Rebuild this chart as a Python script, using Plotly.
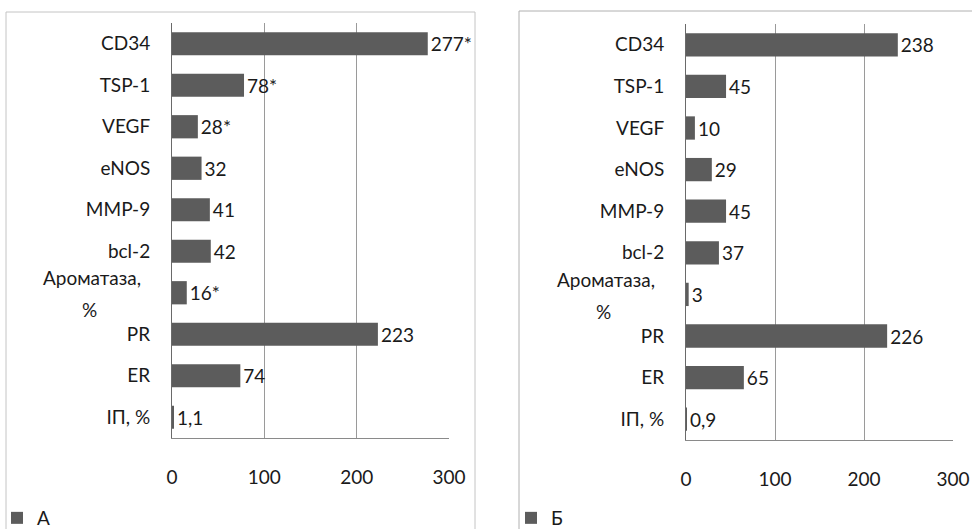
import plotly.graph_objects as go

categories = ["CD34", "TSP-1", "VEGF", "eNOS", "MMP-9", "bcl-2",
              "Ароматаза, %", "PR", "ER", "IП, %"]
tick_text = ["CD34", "TSP-1", "VEGF", "eNOS", "MMP-9", "bcl-2",
             "", "PR", "ER", "IП, %"]
aromatase_lines = ["Ароматаза,", "%"]
values_a = [277, 78, 28, 32, 41, 42, 16, 223, 74, 1.1]
labels_a = ["277*", "78*", "28*", "32", "41", "42", "16*", "223", "74", "1,1"]
values_b = [238, 45, 10, 29, 45, 37, 3, 226, 65, 0.9]
labels_b = ["238", "45", "10", "29", "45", "37", "3", "226", "65", "0,9"]
tick_vals = [0, 100, 200, 300]
name_a = "А"
name_b = "Б"

W, H = 972, 529
FONT = "Lato"
FS = 19
BAR = "#5c5c5c"
TXT = "#1a1a1a"

def px(x):
    return x / W

def py(y):
    return 1 - y / H

fig = go.Figure()
fig.add_trace(go.Bar(
    y=categories, x=values_a, orientation="h", name=name_a,
    marker=dict(color=BAR, line=dict(width=0)),
    text=labels_a, textposition="outside", cliponaxis=False,
    textfont=dict(family=FONT, size=FS, color=TXT),
    xaxis="x", yaxis="y", legend="legend", width=0.56,
))
fig.add_trace(go.Bar(
    y=categories, x=values_b, orientation="h", name=name_b,
    marker=dict(color=BAR, line=dict(width=0)),
    text=labels_b, textposition="outside", cliponaxis=False,
    textfont=dict(family=FONT, size=FS, color=TXT),
    xaxis="x2", yaxis="y2", legend="legend2", width=0.56,
))

xcommon = dict(range=[0, 300], tickvals=tick_vals, showgrid=True,
               gridcolor="#9a9a9a", gridwidth=1, zeroline=False,
               showline=True, linecolor="#8a8a8a", linewidth=1,
               ticks="", ticklabelstandoff=22, automargin=False,
               tickfont=dict(family=FONT, size=FS, color=TXT), fixedrange=True)
ycommon = dict(autorange="reversed", showgrid=False, zeroline=False,
               showline=True, linecolor="#6a6a6a", linewidth=1, ticks="",
               ticklabelstandoff=17, automargin=False,
               tickmode="array", tickvals=categories, ticktext=tick_text,
               tickfont=dict(family=FONT, size=FS, color=TXT), fixedrange=True)

annotations = []
for yref, cx in (("y", 92), ("y2", 606)):
    annotations.append(dict(text=aromatase_lines[0], xref="paper", yref=yref,
                            x=px(cx), y=categories[6], xanchor="center",
                            yanchor="middle", yshift=15, showarrow=False,
                            font=dict(family=FONT, size=FS, color=TXT)))
    annotations.append(dict(text=aromatase_lines[1], xref="paper", yref=yref,
                            x=px(cx - 3), y=categories[6], xanchor="center",
                            yanchor="middle", yshift=-17, showarrow=False,
                            font=dict(family=FONT, size=FS, color=TXT)))

fig.update_layout(
    width=W, height=H,
    margin=dict(l=0, r=0, t=0, b=0, autoexpand=False),
    paper_bgcolor="white", plot_bgcolor="white",
    showlegend=True, bargap=0.44,
    font=dict(family=FONT, color=TXT),
    xaxis=dict(domain=[px(172), px(449)], anchor="y", **xcommon),
    yaxis=dict(domain=[py(438), py(23)], anchor="x", **ycommon),
    xaxis2=dict(domain=[px(686), px(953)], anchor="y2", **xcommon),
    yaxis2=dict(domain=[py(440), py(24)], anchor="x2", **ycommon),
    legend=dict(x=px(-3), y=py(499), xanchor="left", yanchor="top",
                font=dict(family=FONT, size=FS, color=TXT),
                bgcolor="rgba(0,0,0,0)", itemwidth=30),
    legend2=dict(x=px(511), y=py(499), xanchor="left", yanchor="top",
                 font=dict(family=FONT, size=FS, color=TXT),
                 bgcolor="rgba(0,0,0,0)", itemwidth=30),
    annotations=annotations,
    shapes=[
        dict(type="rect", xref="paper", yref="paper",
             x0=px(6), x1=px(475), y0=py(540), y1=py(12),
             line=dict(color="#c4c4c4", width=1), layer="below"),
        dict(type="rect", xref="paper", yref="paper",
             x0=px(519), x1=px(990), y0=py(540), y1=py(11),
             line=dict(color="#b0b0b0", width=1), layer="below"),
    ],
)

fig.write_html("out.html",
               config={"displayModeBar": False},
               post_script="document.body.style.margin='0';"
                           "document.body.style.padding='0';")
